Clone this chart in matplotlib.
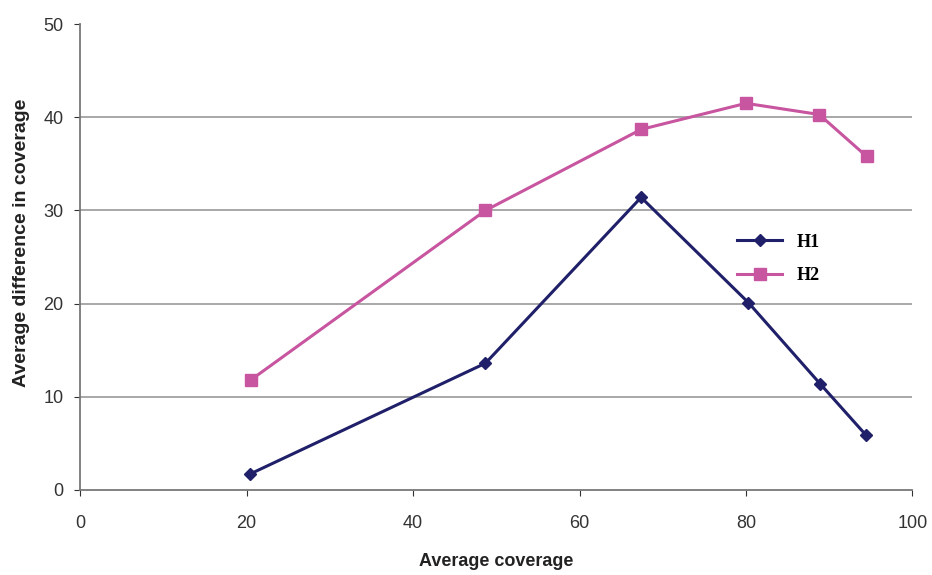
import matplotlib.pyplot as plt

# Data
x_h1 = [20.4, 48.7, 67.4, 80.3, 88.9, 94.4]
y_h1 = [1.7, 13.6, 31.4, 20.1, 11.4, 5.9]
x_h2 = [20.5, 48.7, 67.4, 80.0, 88.8, 94.5]
y_h2 = [11.8, 30.0, 38.7, 41.5, 40.3, 35.8]
x_ticks = [0, 20, 40, 60, 80, 100]
y_ticks = [0, 10, 20, 30, 40, 50]

plt.rcParams['font.family'] = ['Liberation Sans', 'DejaVu Sans']

fig = plt.figure(figsize=(9.32, 5.75), dpi=100)
ax = fig.add_axes([0.086, 0.148, 0.893, 0.81])

ax.plot(x_h1, y_h1, color='#20206a', linewidth=2.2, marker='D', markersize=6, label='H1')
ax.plot(x_h2, y_h2, color='#c8559f', linewidth=2.2, marker='s', markersize=8, label='H2')

ax.set_xlim(0, 100)
ax.set_ylim(0, 50)
ax.set_xticks(x_ticks)
ax.set_yticks(y_ticks)
ax.tick_params(labelsize=13, colors='#333333', length=4)
ax.tick_params(axis='x', pad=14)
ax.tick_params(axis='y', pad=8)
for v in y_ticks[1:-1]:
    ax.axhline(v, color='#999999', linewidth=1.2, zorder=0)
for s in ['top', 'right']:
    ax.spines[s].set_visible(False)
for s in ['left', 'bottom']:
    ax.spines[s].set_color('#777777')
    ax.spines[s].set_linewidth(1.3)

ax.set_xlabel('Average coverage', fontsize=13, fontweight='bold', color='#222222', labelpad=15)
ax.set_ylabel('Average difference in coverage', fontsize=14, fontweight='bold', color='#222222')
ax.yaxis.set_label_coords(-0.06, 0.53)

leg = ax.legend(loc='upper left', bbox_to_anchor=(0.77, 0.585), frameon=False,
                prop={'family': 'Liberation Serif', 'weight': 'bold', 'size': 13},
                handlelength=2.5, labelspacing=0.9)

plt.savefig('out.png', dpi=100)
